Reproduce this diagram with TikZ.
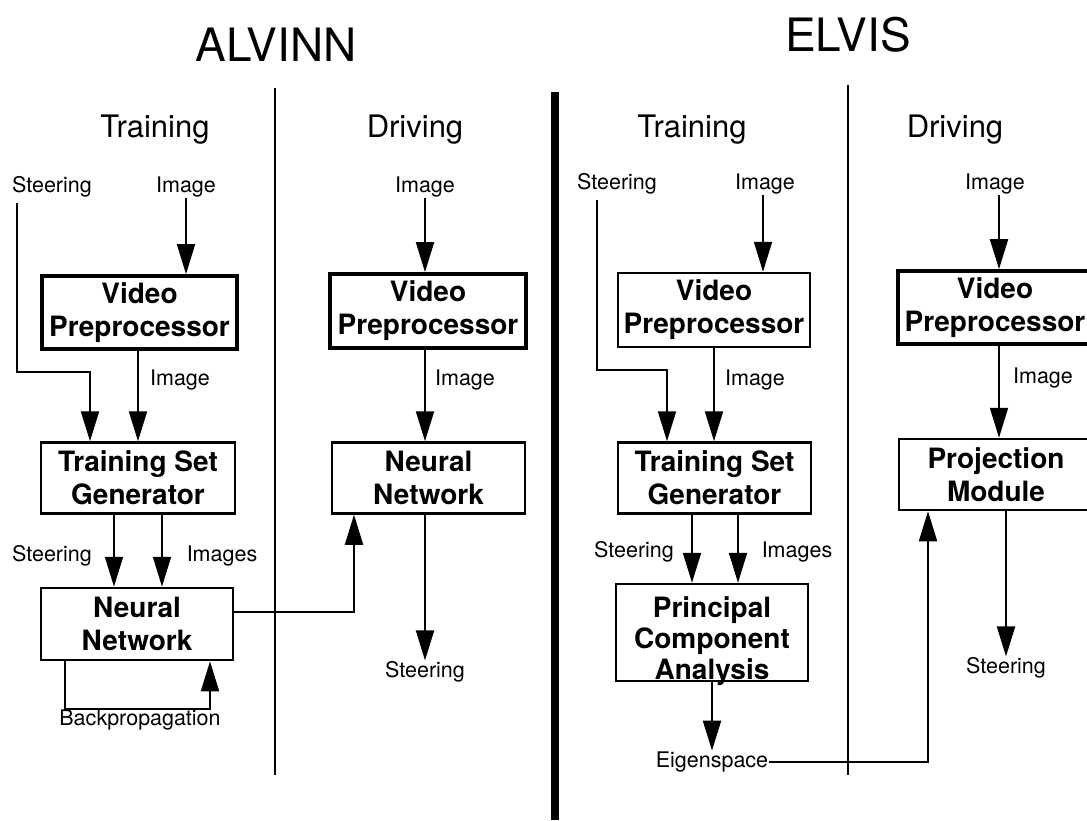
\documentclass[tikz,border=0pt]{standalone}
\usepackage{fontspec}
\setmainfont{TeX Gyre Heros}
\usetikzlibrary{arrows.meta}
\tikzset{
  ttl/.style={inner sep=0pt,font=\fontsize{46}{50}\selectfont},
  sub/.style={inner sep=0pt,font=\fontsize{31}{36}\selectfont},
  lbl/.style={inner sep=1pt,font=\fontsize{21.5}{25}\selectfont},
  box/.style={draw,line width=2.5pt,inner sep=0pt,align=center,minimum width=194pt,minimum height=71pt,font=\fontsize{28}{33}\selectfont\bfseries},
  thickbox/.style={box,line width=3.8pt},
  boxtxt/.style={inner sep=0pt,align=center,font=\fontsize{28}{31}\selectfont\bfseries},
  arr/.style={line width=2pt,-{Triangle[length=30pt,width=18pt]}},
  conn/.style={line width=2pt},
  sepline/.style={line width=2.8pt},
  bigsep/.style={line width=8pt},
}
\begin{document}
\begin{tikzpicture}[x=1pt,y=-1pt]
\useasboundingbox (0,0) rectangle (1087,820);
% titles
\node[ttl] (tA) at (276,45) {ALVINN};
\node[ttl] (tE) at (848,35) {ELVIS};
\node[sub] (trA) at (155,130) {Training};
\node[sub] (drA) at (415,130) {Driving};
\node[sub] (trE) at (692,130) {Training};
\node[sub] (drE) at (955,130) {Driving};
% separators
\coordinate (lA1) at (275,88); \coordinate (lA2) at (275,775);
\coordinate (lE1) at (848,85); \coordinate (lE2) at (848,775);
\coordinate (m1) at (555,92); \coordinate (m2) at (555,820);
\draw[sepline] (lA1) -- (lA2);
\draw[sepline] (lE1) -- (lE2);
\draw[bigsep] (m1) -- (m2);

% ===== ALVINN training =====
\node[thickbox,minimum width=195pt,minimum height=73pt] (vpA) at (139.5,312.5) {Video\\Preprocessor};
\node[box] (tsgA) at (138,478) {Training Set\\Generator};
\node[box,minimum width=192pt,minimum height=72pt] (nnA) at (137,624) {Neural\\Network};
\node[lbl] (stA) at (52,187) {Steering};
\node[lbl] (imA) at (186,187) {Image};
\node[lbl] (imA2) at (180,380) {Image};
\node[lbl] (stA2) at (52,556) {Steering};
\node[lbl] (imsA) at (222,556) {Images};
\node[lbl] (bpA) at (140,720) {Backpropagation};
\coordinate (sA0) at (17,203); \coordinate (sA1) at (90,372);
\draw[arr] (sA0) |- (sA1) -- (sA1 |- tsgA.north);
\draw[arr] (imA.south) -- (imA.south |- vpA.north);
\draw[arr] ([xshift=-1.5pt]vpA.south) -- ([xshift=-1.5pt]vpA.south |- tsgA.north);
\draw[arr] ([xshift=-24pt]tsgA.south) -- ([xshift=-24pt]tsgA.south |- nnA.north);
\draw[arr] ([xshift=24pt]tsgA.south) -- ([xshift=24pt]tsgA.south |- nnA.north);
\draw[arr] ([xshift=-72pt]nnA.south) -- ++(0,48) -| ([xshift=73pt]nnA.south);

% ===== ALVINN driving =====
\node[thickbox,minimum width=196pt,minimum height=74pt] (vpAD) at (428,311) {Video\\Preprocessor};
\node[box,minimum width=193pt] (nnAD) at (428.5,478) {Neural\\Network};
\node[lbl] (imAD) at (425,187) {Image};
\node[lbl] (imAD2) at (465,380) {Image};
\node[lbl] (soA) at (425,672) {Steering};
\draw[arr] (imAD.south) -- (imAD.south |- vpAD.north);
\draw[arr] ([xshift=-3pt]vpAD.south) -- ([xshift=-3pt]vpAD.south |- nnAD.north);
\draw[arr] (nnAD.south -| soA) -- (soA.north);
\draw[arr] ([yshift=12pt]nnA.east) -| ([xshift=-74.5pt]nnAD.south);

% ===== ELVIS training =====
\node[box,minimum width=192pt,minimum height=74pt] (vpE) at (714,310) {Video\\Preprocessor};
\node[box,minimum width=193pt] (tsgE) at (714.5,478) {Training Set\\Generator};
\node[box,minimum width=192pt,minimum height=97pt] (pcaE) at (712,632.5) {};
\node[boxtxt] (pcaT) at (712,641) {Principal\\Component\\Analysis};
\node[lbl] (stE) at (617,184) {Steering};
\node[lbl] (imE) at (765,184) {Image};
\node[lbl] (imE2) at (755,380) {Image};
\node[lbl] (stE2) at (634,552) {Steering};
\node[lbl] (imsE) at (797,552) {Images};
\node[lbl] (eig) at (712,762) {Eigenspace};
\coordinate (sE0) at (597,200); \coordinate (sE1) at (667,370);
\draw[arr] (sE0) |- (sE1) -- (sE1 |- tsgE.north);
\draw[arr] (imE.south -| 763,0) -- (763,0 |- vpE.north);
\draw[arr] (vpE.south) -- (vpE.south |- tsgE.north);
\draw[arr] ([xshift=-22.5pt]tsgE.south) -- ([xshift=-22.5pt]tsgE.south |- pcaE.north);
\draw[arr] ([xshift=23.5pt]tsgE.south) -- ([xshift=23.5pt]tsgE.south |- pcaE.north);
\draw[arr] (pcaE.south -| eig) -- (eig.north);

% ===== ELVIS driving =====
\node[thickbox,minimum width=194pt,minimum height=73pt] (vpED) at (995,307.5) {Video\\Preprocessor};
\node[box,minimum width=194pt] (pmE) at (996,474.5) {Projection\\Module};
\node[lbl] (imED) at (995,184) {Image};
\node[lbl] (imED2) at (1043,378) {Image};
\node[lbl] (soE) at (1006,668) {Steering};
\coordinate (xED) at (999,0);
\draw[arr] (imED.south -| xED) -- (vpED.north -| xED);
\draw[arr] (vpED.south -| xED) -- (pmE.north -| xED);
\draw[arr] (pmE.south -| soE) -- (soE.north);
\draw[arr] (eig.east) -| ([xshift=-68pt]pmE.south);
\end{tikzpicture}
\end{document}
